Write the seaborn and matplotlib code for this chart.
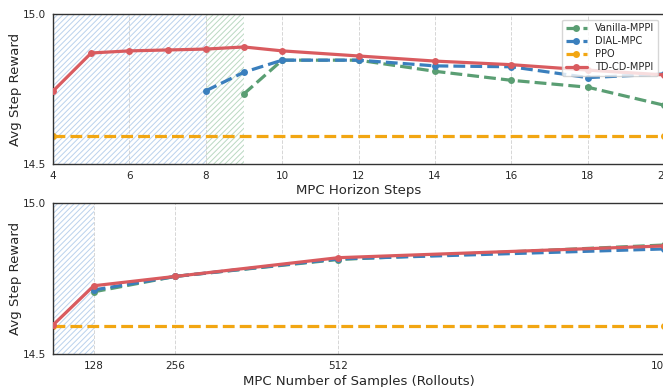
import numpy as np
import pandas as pd
import matplotlib
matplotlib.use('Agg')
from matplotlib import pyplot as plt
import seaborn as sns

# horizon sweep
horizon = [4, 5, 6, 7, 8, 9, 10, 12, 14, 16, 18, 20]
td_cd_h = [14.743, 14.870, 14.877, 14.880, 14.883, 14.890, 14.877, 14.860, 14.843, 14.831, 14.813, 14.797]
dial_h_x = [8, 9, 10, 12, 14, 16, 18, 20]
dial_h = [14.744, 14.806, 14.846, 14.846, 14.827, 14.824, 14.788, 14.800]
vanilla_h_x = [9, 10, 12, 14, 16, 18, 20]
vanilla_h = [14.734, 14.846, 14.846, 14.809, 14.779, 14.756, 14.696]
ppo_h_x = [4, 20]
ppo_h = [14.592, 14.592]

# samples sweep
samples = [64, 128, 256, 512, 1024]
td_cd_s = [14.596, 14.726, 14.757, 14.819, 14.858]
samples_b = [128, 256, 512, 1024]
dial_s = [14.712, 14.757, 14.815, 14.848]
vanilla_s = [14.706, 14.757, 14.813, 14.861]
ppo_s_x = [64, 1024]
ppo_s = [14.593, 14.593]

C_GREEN = '#5a9e73'
C_BLUE = '#3a7fbd'
C_ORANGE = '#f2a612'
C_RED = '#d95b5f'

sns.set_style('white')
plt.rcParams['font.family'] = ['DejaVu Sans']
plt.rcParams['hatch.linewidth'] = 0.7

fig = plt.figure(figsize=(6.63, 3.87), dpi=100)
ax1 = fig.add_axes([0.080, 0.576, 0.9216, 0.388])
ax2 = fig.add_axes([0.080, 0.0853, 0.9216, 0.390])


def draw(ax, series):
    for name, xs, ys, color, ls in series:
        df = pd.DataFrame({'x': xs, 'y': ys})
        sns.lineplot(data=df, x='x', y='y', ax=ax, color=color, linestyle=ls,
                     marker='o', markersize=5, markeredgewidth=0, linewidth=2.3,
                     label=name, zorder=3 if name == 'TD-CD-MPPI' else 2)


draw(ax1, [
    ('Vanilla-MPPI', vanilla_h_x, vanilla_h, C_GREEN, '--'),
    ('DIAL-MPC', dial_h_x, dial_h, C_BLUE, '--'),
    ('PPO', ppo_h_x, ppo_h, C_ORANGE, '--'),
    ('TD-CD-MPPI', horizon, td_cd_h, C_RED, '-'),
])
draw(ax2, [
    ('Vanilla-MPPI', samples_b, vanilla_s, C_GREEN, '--'),
    ('DIAL-MPC', samples_b, dial_s, C_BLUE, '--'),
    ('PPO', ppo_s_x, ppo_s, C_ORANGE, '--'),
    ('TD-CD-MPPI', samples, td_cd_s, C_RED, '-'),
])

ax1.axvspan(4, 8, facecolor='none', edgecolor=(0.55, 0.7, 0.88, 0.6), hatch='//////', linewidth=0, zorder=0)
ax1.axvspan(8, 9, facecolor='none', edgecolor=(0.55, 0.75, 0.6, 0.6), hatch='//////', linewidth=0, zorder=0)
ax2.axvspan(64, 128, facecolor='none', edgecolor=(0.55, 0.7, 0.88, 0.6), hatch='//////', linewidth=0, zorder=0)

ax1.set_xlim(4, 20)
ax1.set_xticks([4, 6, 8, 10, 12, 14, 16, 18, 20])
ax2.set_xlim(64, 1024)
ax2.set_xticks([128, 256, 512, 1024])

for ax in (ax1, ax2):
    ax.set_ylim(14.5, 15.0)
    ax.set_yticks([14.5, 15.0])
    ax.set_ylabel('Avg Step Reward', fontsize=9.5)
    ax.tick_params(axis='both', labelsize=7.5, length=3, color='#333333', pad=2)
    ax.grid(axis='x', linestyle='--', color='#cccccc', linewidth=0.7, alpha=0.8)
    ax.set_axisbelow(True)
    for s in ax.spines.values():
        s.set_color('#333333')
        s.set_linewidth(1.0)
    ax.yaxis.set_label_coords(-0.05, 0.5)

ax1.set_xlabel('MPC Horizon Steps', fontsize=9.5, labelpad=2)
ax2.set_xlabel('MPC Number of Samples (Rollouts)', fontsize=9.5, labelpad=3)

ax1.legend(loc='upper right', bbox_to_anchor=(0.998, 0.995), fontsize=7, frameon=True,
           handlelength=2.2, borderpad=0.4, labelspacing=0.3)
ax2.get_legend().remove()

fig.savefig('out.png', dpi=100)
